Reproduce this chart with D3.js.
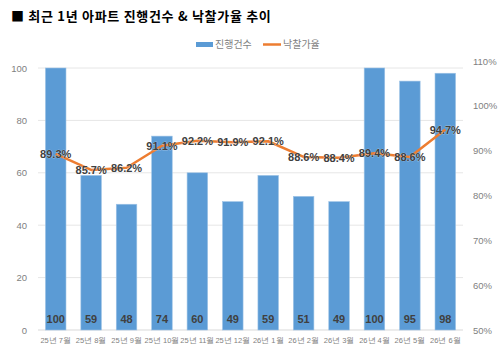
<!DOCTYPE html>
<html><head><meta charset="utf-8">
<script src="https://cdn.jsdelivr.net/npm/d3@7"></script>
<style>
body{margin:0;background:#fff;}
svg{display:block;font-family:"Noto Sans CJK KR","Noto Sans",sans-serif;}
</style></head>
<body><svg id="c" width="500" height="354"></svg>
<script>
const categories = ["25년 7월","25년 8월","25년 9월","25년 10월","25년 11월","25년 12월","26년 1월","26년 2월","26년 3월","26년 4월","26년 5월","26년 6월"];
const counts = [100,59,48,74,60,49,59,51,49,100,95,98];
const rates = [89.3,85.7,86.2,91.1,92.2,91.9,92.1,88.6,88.4,89.4,88.6,94.7];
const leftTicks = [0,20,40,60,80,100];
const rightTicks = [50,60,70,80,90,100,110];
const title = "■ 최근 1년 아파트 진행건수 & 낙찰가율 추이";
const seriesNames = ["진행건수","낙찰가율"];

const svg = d3.select("#c");
const L = 38, R = 463, T = 68, B = 330;
const x = d3.scaleBand().domain(categories).range([L, R]).paddingInner(0.42).paddingOuter(0.21);
const yL = d3.scaleLinear().domain([0,100]).range([B, T]);
const yR = d3.scaleLinear().domain([50,110]).range([B, 61]);

svg.append("text").attr("x",11).attr("y",21).attr("font-size",13).attr("font-weight","bold")
  .attr("letter-spacing",0.7).attr("fill","#000").text(title);

// legend
const lg = svg.append("g").attr("font-size",10).attr("fill","#7f7f7f");
lg.append("rect").attr("x",196).attr("y",42).attr("width",17).attr("height",5).attr("fill","#5B9BD5");
lg.append("text").attr("x",215).attr("y",48).text(seriesNames[0]);
lg.append("line").attr("x1",263).attr("x2",281).attr("y1",44.5).attr("y2",44.5).attr("stroke","#ED7D31").attr("stroke-width",2.5);
lg.append("text").attr("x",283).attr("y",48).text(seriesNames[1]);

// gridlines
svg.append("g").selectAll("line").data(leftTicks).join("line")
  .attr("x1",L).attr("x2",R).attr("y1",d=>yL(d)).attr("y2",d=>yL(d))
  .attr("stroke",d=>d===0?"#d9d9d9":"#e6e6e6").attr("stroke-width",1);

// left axis
const la = svg.append("g").attr("transform",`translate(${L},0)`).call(d3.axisLeft(yL).tickValues(leftTicks).tickSize(0).tickPadding(11));
la.select(".domain").remove();
la.selectAll("text").attr("fill","#7f7f7f").attr("font-size",9.5).attr("font-family","'Liberation Sans',sans-serif");

// right axis
const ra = svg.append("g").attr("transform",`translate(${R},0)`).call(d3.axisRight(yR).tickValues(rightTicks).tickFormat(d=>d+"%").tickSize(0).tickPadding(10));
ra.select(".domain").remove();
ra.selectAll("text").attr("fill","#7f7f7f").attr("font-size",9.5).attr("font-family","'Liberation Sans',sans-serif");

// x axis
const xa = svg.append("g").attr("transform",`translate(0,${B})`).call(d3.axisBottom(x).tickSize(0).tickPadding(8));
xa.select(".domain").remove();
xa.selectAll("text").attr("fill","#7f7f7f").attr("font-size",7.5);

// bars
svg.append("g").selectAll("rect").data(counts).join("rect")
  .attr("x",(d,i)=>x(categories[i])).attr("width",x.bandwidth())
  .attr("y",d=>yL(d)).attr("height",d=>B-yL(d))
  .attr("fill","#5B9BD5").attr("stroke","#9DC3E6").attr("stroke-width",0.6);

svg.append("g").selectAll("text").data(counts).join("text")
  .attr("x",(d,i)=>x(categories[i])+x.bandwidth()/2).attr("y",323)
  .attr("text-anchor","middle").attr("font-size",11).attr("font-weight","bold")
  .attr("font-family","'Liberation Sans',sans-serif").attr("fill","#404040").text(d=>d);

// line
const line = d3.line().x((d,i)=>x(categories[i])+x.bandwidth()/2).y(d=>yR(d));
svg.append("path").datum(rates).attr("d",line).attr("fill","none")
  .attr("stroke","#ED7D31").attr("stroke-width",2.5).attr("stroke-linejoin","round");

svg.append("g").selectAll("text").data(rates).join("text")
  .attr("x",(d,i)=>x(categories[i])+x.bandwidth()/2).attr("y",d=>yR(d)+4)
  .attr("text-anchor","middle").attr("font-size",11).attr("font-weight","bold")
  .attr("font-family","'Liberation Sans',sans-serif").attr("fill","#404040")
  .attr("stroke","#ffffff").attr("stroke-width",0.6).attr("stroke-opacity",0.6).attr("paint-order","stroke")
  .text(d=>d.toFixed(1)+"%");
</script></body></html>
